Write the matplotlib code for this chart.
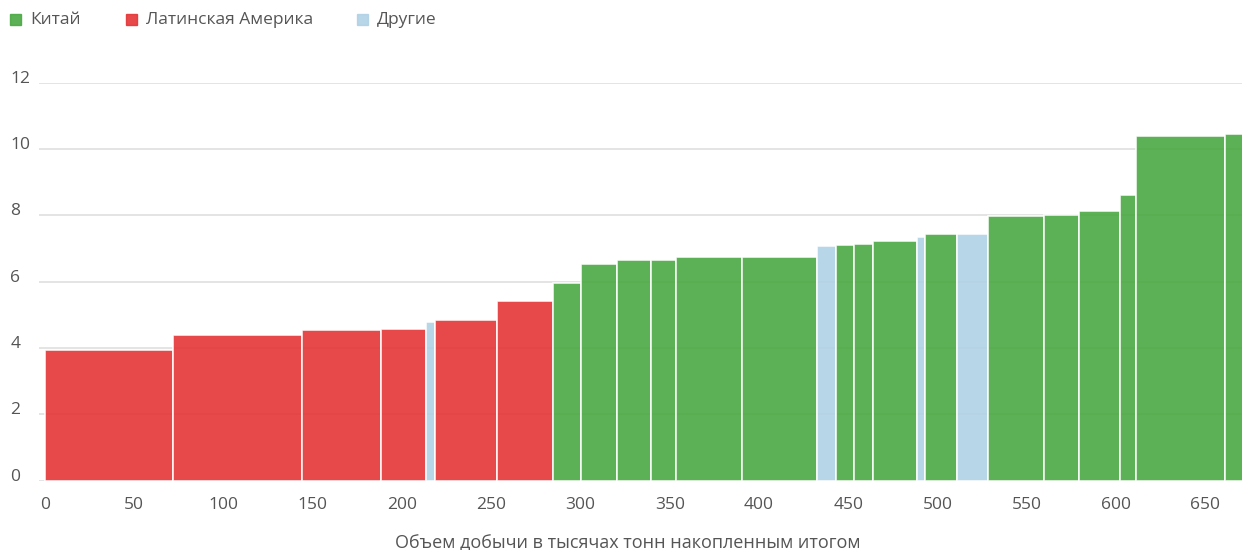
import matplotlib
matplotlib.use("Agg")
import matplotlib.pyplot as plt
from matplotlib.patches import Rectangle

# Кривая затрат: ширина столбца = объем добычи (тыс. т), высота = затраты
regions = ["lat", "lat", "lat", "lat", "oth", "lat", "lat",
           "cn", "cn", "cn", "cn", "cn", "cn", "oth", "cn", "cn", "cn",
           "oth", "cn", "oth", "cn", "cn", "cn", "cn", "cn", "cn"]
volumes = [71.8, 72.3, 43.9, 25.5, 4.8, 34.8, 31.3,
           15.7, 20.3, 18.9, 14.4, 36.7, 41.9, 11.0, 10.1, 10.3, 24.5,
           4.7, 18.1, 17.4, 31.1, 19.6, 23.2, 9.0, 49.5, 12.0]
costs = [3.95, 4.40, 4.55, 4.57, 4.79, 4.86, 5.43,
         5.97, 6.52, 6.66, 6.66, 6.74, 6.74, 7.07, 7.10, 7.15, 7.23,
         7.34, 7.43, 7.45, 7.98, 8.02, 8.13, 8.61, 10.39, 10.46]

legend_keys = ["cn", "lat", "oth"]
legend_labels = ["Китай", "Латинская Америка", "Другие"]
colors = {"cn": "#4aa842", "lat": "#e53436", "oth": "#b0d2e5"}

x_ticks = list(range(0, 651, 50))
y_ticks = list(range(0, 13, 2))
x_label = "Объем добычи в тысячах тонн накопленным итогом"

plt.rcParams["font.family"] = ["Open Sans", "DejaVu Sans"]

W, H = 1242, 550
fig = plt.figure(figsize=(W / 100, H / 100), dpi=100)
ax = fig.add_axes([39.3 / W, 69.3 / H, (W - 39.3) / W, 398 / H])

# накопленные левые границы
lefts = []
acc = 0.0
for v in volumes:
    lefts.append(acc)
    acc += v

ax.bar(lefts, costs, width=volumes, align="edge",
       color=[colors[r] for r in regions], alpha=0.9,
       edgecolor="white", linewidth=1.2, zorder=2)

ax.set_xlim(-3.2, 670.5)
ax.set_ylim(0, 12)
ax.set_xticks(x_ticks)
ax.set_yticks(y_ticks)
ax.grid(axis="y", color="#dcdcdc", linewidth=1.1, zorder=0)
ax.set_axisbelow(True)
for s in ax.spines.values():
    s.set_visible(False)

ax.tick_params(axis="x", length=0, pad=12, labelsize=12.5, labelcolor="#555555")
ax.tick_params(axis="y", length=0, pad=21, labelsize=12.5, labelcolor="#555555")
for lbl in ax.get_yticklabels():
    lbl.set_horizontalalignment("left")
    lbl.set_verticalalignment("baseline")

fig.text(628 / W, 1 - 543 / H, x_label, ha="center", va="center",
         fontsize=13, color="#555555")

# легенда сверху
marker_x = [10, 126, 357]
for key, label, mx in zip(legend_keys, legend_labels, marker_x):
    fig.patches.append(Rectangle((mx / W, 1 - 25 / H), 11 / W, 11 / H,
                                 transform=fig.transFigure,
                                 color=colors[key], alpha=0.9))
    fig.text((mx + 20) / W, 1 - 19.5 / H, label, ha="left", va="center",
             fontsize=12.5, color="#555555")

fig.savefig("out.png", dpi=100)
